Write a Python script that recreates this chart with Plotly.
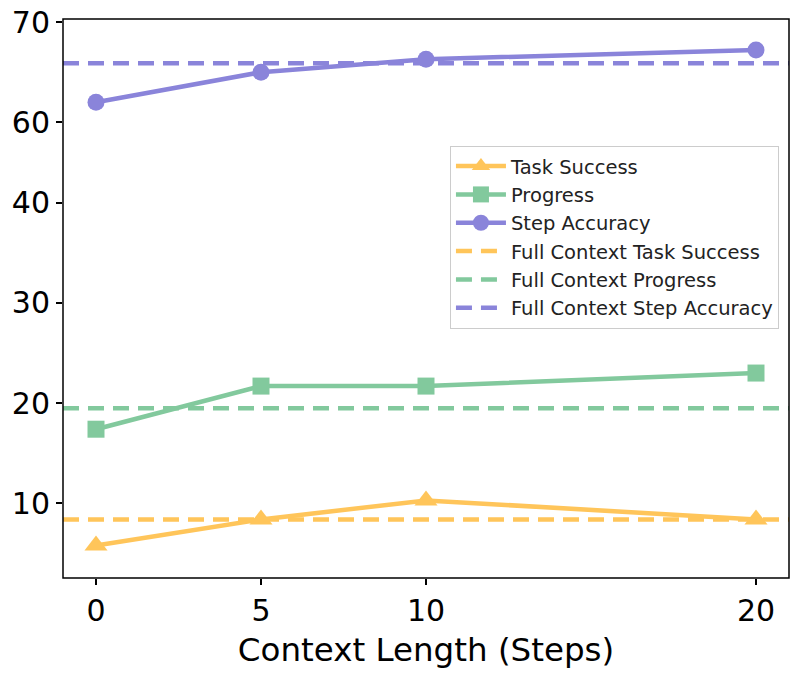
import plotly.graph_objects as go

context_len = [0, 5, 10, 20]
task_success = [5.8, 8.4, 10.3, 8.4]
progress = [17.4, 21.7, 21.7, 23.0]
step_accuracy = [62.0, 65.0, 66.3, 67.2]

full_task_success = 8.4
full_progress = 19.5
full_step_accuracy = 65.9

ORANGE = "#FFC55A"
GREEN = "#82C99D"
PURPLE = "#8A84DA"

FONT = "DejaVu Sans"
x_span = [-1, 21]

fig = go.Figure()

fig.add_trace(go.Scatter(
    x=context_len, y=task_success, name="Task Success", mode="lines+markers",
    line=dict(color=ORANGE, width=4.5),
    marker=dict(symbol="triangle-up", size=20, color=ORANGE),
))
fig.add_trace(go.Scatter(
    x=context_len, y=progress, name="Progress", mode="lines+markers",
    line=dict(color=GREEN, width=4.5),
    marker=dict(symbol="square", size=17, color=GREEN),
))
fig.add_trace(go.Scatter(
    x=context_len, y=step_accuracy, name="Step Accuracy", mode="lines+markers",
    line=dict(color=PURPLE, width=4.5),
    marker=dict(symbol="circle", size=17, color=PURPLE),
    yaxis="y2",
))
fig.add_trace(go.Scatter(
    x=x_span, y=[full_task_success] * 2, name="Full Context Task Success",
    mode="lines", line=dict(color=ORANGE, width=4.5, dash="16px,9px"),
))
fig.add_trace(go.Scatter(
    x=x_span, y=[full_progress] * 2, name="Full Context Progress",
    mode="lines", line=dict(color=GREEN, width=4.5, dash="16px,9px"),
))
fig.add_trace(go.Scatter(
    x=x_span, y=[full_step_accuracy] * 2, name="Full Context Step Accuracy",
    mode="lines", line=dict(color=PURPLE, width=4.5, dash="16px,9px"),
    yaxis="y2",
))

tick_style = dict(
    ticks="outside", ticklen=6, tickwidth=1.5, tickcolor="black",
    showgrid=False, zeroline=False, showline=False, automargin=False,
    ticklabeloverflow="allow",
    tickfont=dict(family=FONT, size=30, color="black"),
)

fig.update_layout(
    width=804, height=680,
    margin=dict(l=63, r=15, t=19, b=102),
    plot_bgcolor="white", paper_bgcolor="white",
    font=dict(family=FONT, color="black"),
    xaxis=dict(
        range=x_span, tickvals=context_len,
        title=dict(text="Context Length (Steps)", font=dict(family=FONT, size=32.5), standoff=11),
        **tick_style,
    ),
    yaxis=dict(domain=[0, 0.781], range=[2.56, 46.1], tickvals=[10, 20, 30, 40], **tick_style),
    yaxis2=dict(domain=[0.781, 1], range=[58.1, 70.3], tickvals=[60, 70], anchor="x", **tick_style),
    legend=dict(
        x=0.533, y=0.773, xanchor="left", yanchor="top",
        bgcolor="rgba(255,255,255,0.8)", bordercolor="#cccccc", borderwidth=1,
        font=dict(family=FONT, size=19.5, color="#222222"),
        tracegroupgap=0, itemwidth=50,
    ),
    showlegend=True,
    shapes=[dict(
        type="rect", xref="paper", yref="paper", x0=0, x1=1, y0=0, y1=1,
        line=dict(color="black", width=1.5), layer="above",
    )],
)

# drop the default 8px page margin so the figure fills the window
fig.write_html(
    "out.html",
    config={"displayModeBar": False},
    post_script="document.body.style.margin='0';",
)
